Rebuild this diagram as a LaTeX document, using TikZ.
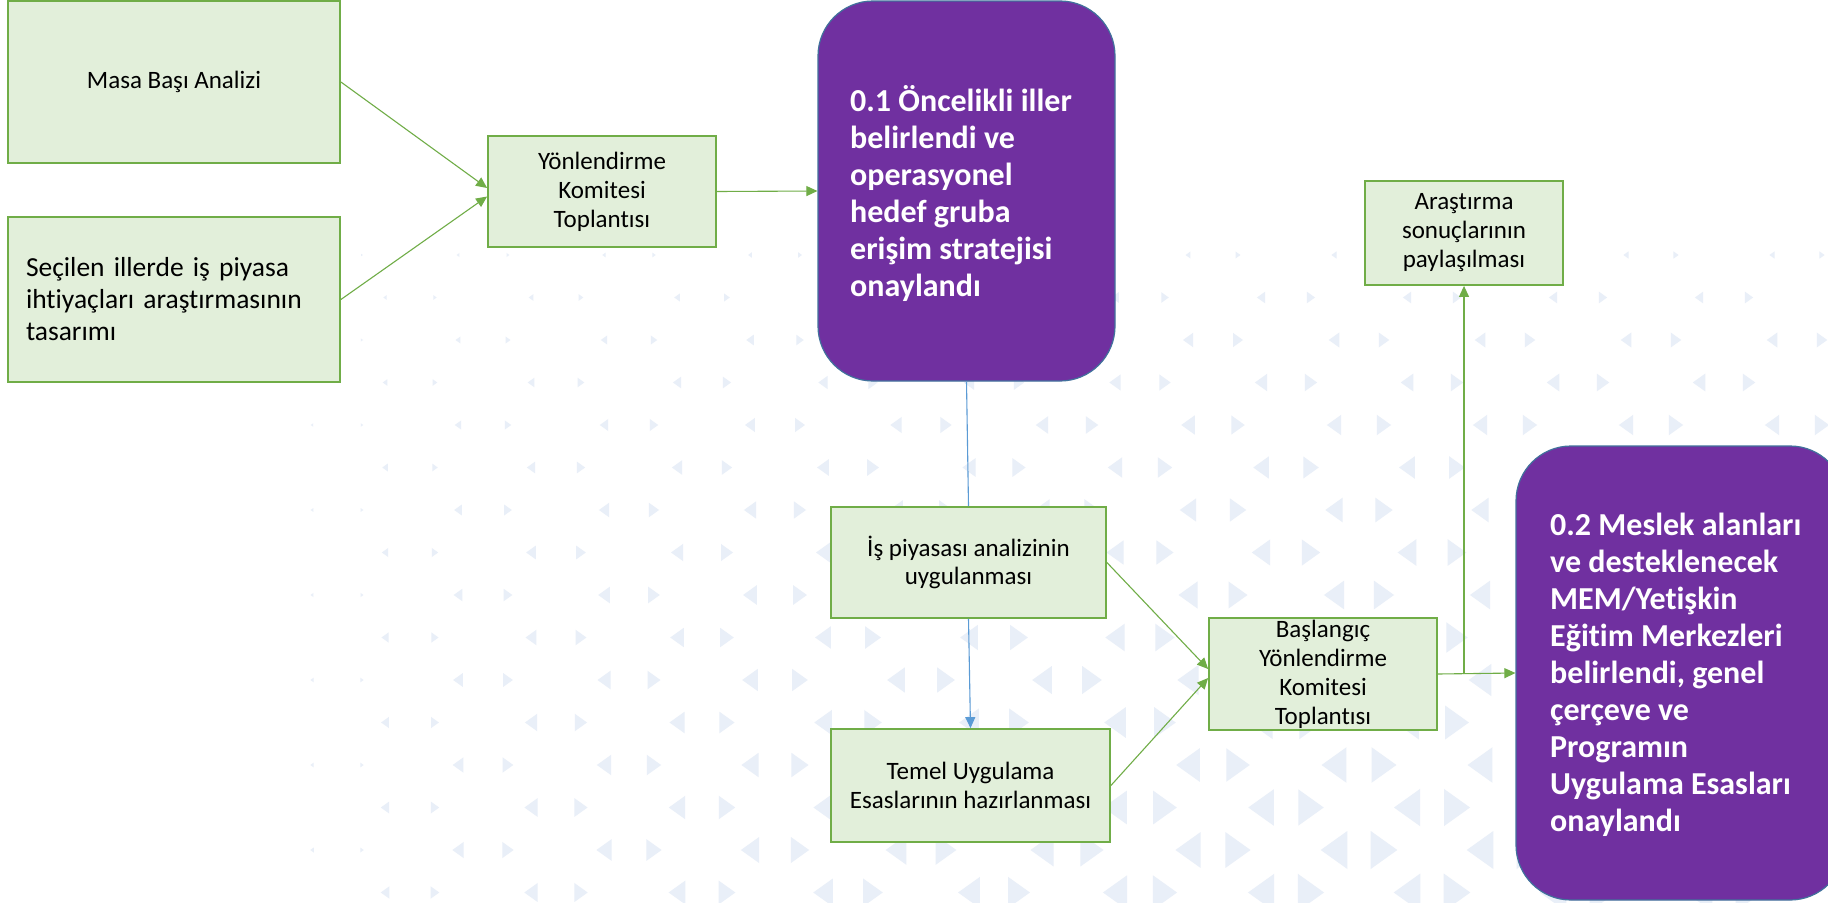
\documentclass[tikz,border=0pt]{standalone}
\usepackage{fontspec}
\setmainfont{Carlito}[Ligatures=CommonOff]
\usetikzlibrary{arrows.meta,calc}
\definecolor{gfill}{HTML}{E2EFDA}
\definecolor{gline}{HTML}{70AD47}
\definecolor{pfill}{HTML}{7030A0}
\definecolor{pline}{HTML}{41719C}
\definecolor{bluecol}{HTML}{5B9BD5}
\definecolor{tricol}{HTML}{E9EFF8}
\begin{document}
\begin{tikzpicture}[x=1pt,y=-1pt,
  gbox/.style={draw=gline, fill=gfill, line width=1.8pt, inner sep=0pt,
    font=\fontsize{25}{29}\selectfont, align=center},
  pbox/.style={draw=pline, fill=pfill, line width=1.2pt, rounded corners=55pt, inner sep=0pt},
  ptext/.style={anchor=west, align=left, text=white, inner sep=0pt,
    font=\fontsize{32}{37}\selectfont\bfseries},
  garrow/.style={draw=gline, line width=1.1pt, -{Triangle[length=11pt,width=10pt]}},
  bconn/.style={draw=bluecol, line width=1.1pt},
  barrow/.style={draw=bluecol, line width=1.1pt, -{Triangle[length=11pt,width=10pt]}}
]
\useasboundingbox (0,0) rectangle (1828,902);
\fill[white] (0,0) rectangle (1828,902);

% faint background triangles
\begin{scope}
\clip (0,0) rectangle (1828,902);
\foreach \r in {0,...,15}{
 \foreach \c in {0,...,11}{
  \pgfmathsetmacro\yy{255+42.5*\r}
  \pgfmathsetmacro\xx{410+146*\c-73*mod(\r+1,2)}
  \pgfmathsetmacro\fy{max(0.001,min(1,(\yy-230)/600))}
  \pgfmathsetmacro\fx{max(0.001,min(1,(\xx-330)/1000))}
  \pgfmathsetmacro\ss{1+18*(\fy^0.6)*(\fx^0.5)}
  \pgfmathsetmacro\ww{1.4*\ss}
  \fill[tricol] (\xx-25-0.5*\ww,\yy) -- (\xx-25+0.5*\ww,\yy-\ss) -- (\xx-25+0.5*\ww,\yy+\ss) -- cycle;
  \fill[tricol] (\xx+25+0.5*\ww,\yy) -- (\xx+25-0.5*\ww,\yy-\ss) -- (\xx+25-0.5*\ww,\yy+\ss) -- cycle;
 }
}
\end{scope}

\node[gbox, minimum width=332pt, minimum height=162pt] (A) at (174,82) {Masa Başı Analizi};
\node[gbox, minimum width=332pt, minimum height=165pt, text width=296pt, align=left,
  font=\fontsize{27.5}{32}\selectfont] (B) at (174,299.5)
  {Seçilen illerde iş piyasa\\ihtiyaçları araştırmasının\\tasarımı};
\node[gbox, minimum width=228pt, minimum height=111pt] (C) at (602,191.5)
  {Yönlendirme\\Komitesi\\Toplantısı};
\node[pbox, minimum width=297pt, minimum height=380pt] (P1) at (966.5,191) {};
\node[ptext] (P1t) at (850,193)
  {0.1 Öncelikli iller\\belirlendi ve\\operasyonel\\hedef gruba\\erişim stratejisi\\onaylandı};
\node[gbox, minimum width=198pt, minimum height=104pt] (D) at (1464,233)
  {Araştırma\\sonuçlarının\\paylaşılması};
\node[gbox, minimum width=275pt, minimum height=111pt, font=\fontsize{25}{28.5}\selectfont]
  (E) at (968.5,562.5) {İş piyasası analizinin\\uygulanması};
\node[gbox, minimum width=279pt, minimum height=113pt] (F) at (970.5,785.5)
  {Temel Uygulama\\Esaslarının hazırlanması};
\node[gbox, minimum width=228pt, minimum height=112pt] (G) at (1323,674)
  {Başlangıç\\Yönlendirme\\Komitesi\\Toplantısı};
\node[pbox, minimum width=329pt, minimum height=454pt] (P2) at (1680.5,673) {};
\node[ptext] (P2t) at (1550,675)
  {0.2 Meslek alanları\\ve desteklenecek\\MEM/Yetişkin\\Eğitim Merkezleri\\belirlendi, genel\\çerçeve ve\\Programın\\Uygulama Esasları\\onaylandı};

\draw[garrow] (A.east) -- ([yshift=3.5pt]C.west);
\draw[garrow] (B.east) -- ([yshift=-5pt]C.west);
\draw[garrow] (C.east) -- (P1.west);
\draw[bconn] (P1.south) -- (E.north);
\draw[barrow] (E.south) -- (F.north);
\draw[garrow] (E.east) -- ([yshift=5pt]G.west);
\draw[garrow] (F.east) -- ([yshift=-4pt]G.west);
\draw[garrow] (G.east) -- (P2.west);
\coordinate (J) at (D.south |- G.east);
\draw[garrow] (J) -- (D.south);
\end{tikzpicture}
\end{document}
